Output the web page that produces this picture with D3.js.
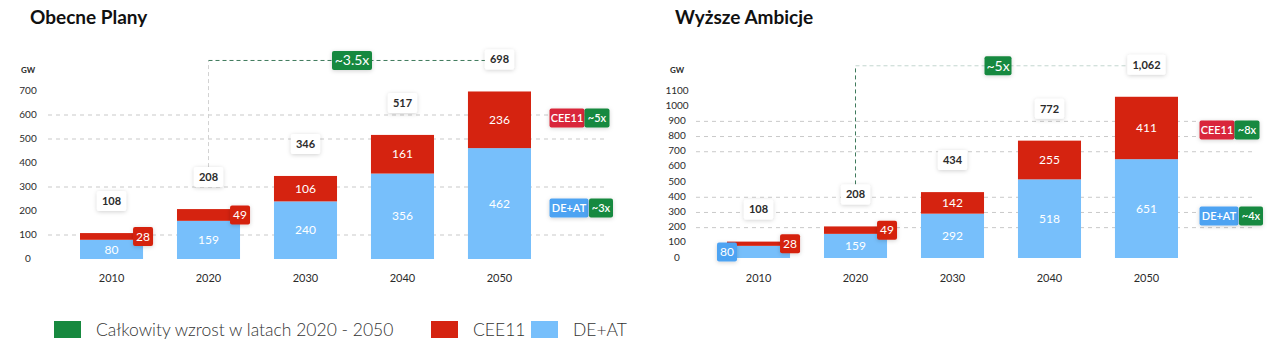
<!DOCTYPE html>
<html>
<head>
<meta charset="utf-8">
<script src="https://cdn.jsdelivr.net/npm/d3@7"></script>
<style>
  body { margin: 0; background: #fff; }
  svg { font-family: Lato, "Open Sans", sans-serif; display: block; }
</style>
</head>
<body>
<div id="main"></div>
<script>
// ---- data ----
const years = ["2010", "2020", "2030", "2040", "2050"];

const planyDeat  = [80, 159, 240, 356, 462];
const planyCee   = [28, 49, 106, 161, 236];
const planyTotal = [108, 208, 346, 517, 698];
const planyTicks = [0, 100, 200, 300, 400, 500, 600, 700];
const planyGrid  = [100, 300, 500, 600];
const planyGrowth = ["~3.5x", "~5x", "~3x"];   // total, CEE11, DE+AT

const ambDeat  = [80, 159, 292, 518, 651];
const ambCee   = [28, 49, 142, 255, 411];
const ambTotal = [108, 208, 434, 772, 1062];
const ambTicks = [0, 100, 200, 300, 400, 500, 600, 700, 800, 900, 1000, 1100];
const ambGrid  = [200, 300, 400, 700, 800, 900];
const ambGrowth = ["~5x", "~8x", "~4x"];

const legendLabels = ["Całkowity wzrost w latach 2020 - 2050", "CEE11", "DE+AT"];

const col = {
    red: "#d52310",
    blue: "#77bffb",
    green: "#17893f",
    tagRed: "#d9283a",
    tagBlue: "#4ea3f2",
    text: "#2b2b2b",
    grid: "#c9c9c9"
};

const svg = d3.select("#main").append("svg")
    .attr("width", 1280)
    .attr("height", 354);

// soft shadow used by the label boxes
const defs = svg.append("defs");
defs.append("filter").attr("id", "shadow")
    .attr("x", "-50%").attr("y", "-50%").attr("width", "200%").attr("height", "200%")
    .append("feDropShadow")
    .attr("dx", 0).attr("dy", 1).attr("stdDeviation", 2)
    .attr("flood-color", "#000").attr("flood-opacity", 0.18);

// white box with bold number, sized to the text
function valueBox(g, cx, cy, txt) {
    let bg = g.append("rect").attr("fill", "#fff").attr("rx", 2)
        .attr("filter", "url(#shadow)");
    let t = g.append("text")
        .attr("x", cx).attr("y", cy).attr("dy", "0.35em")
        .attr("text-anchor", "middle")
        .attr("font-size", 11).attr("font-weight", 700)
        .attr("fill", col.text)
        .text(txt);
    let w = t.node().getComputedTextLength() + 10;
    bg.attr("x", cx - w / 2).attr("y", cy - 10).attr("width", w).attr("height", 20);
}

// coloured tag with white text
function tag(g, cx, cy, w, fill, txt, size, weight) {
    g.append("rect")
        .attr("x", cx - w / 2).attr("y", cy - 9.5)
        .attr("width", w).attr("height", 19).attr("rx", 2)
        .attr("fill", fill).attr("filter", "url(#shadow)");
    g.append("text")
        .attr("x", cx).attr("y", cy).attr("dy", "0.35em")
        .attr("text-anchor", "middle")
        .attr("font-size", size || 12).attr("font-weight", weight || 700)
        .attr("fill", "#fff")
        .text(txt);
}

function drawPanel(p) {
    let g = svg.append("g");

    g.append("text")
        .attr("x", p.titleX).attr("y", 24)
        .attr("font-size", 19).attr("font-weight", 700)
        .attr("fill", "#111")
        .text(p.title);

    let x = d3.scaleBand().domain(years)
        .range(p.xRange).paddingInner(0.35).paddingOuter(0);
    let y = d3.scaleLinear().domain([0, p.max]).range([p.y0, 91]);

    // dashed grid
    g.append("g").selectAll("line")
        .data(p.grid).enter().append("line")
        .attr("x1", p.gridX[0]).attr("x2", p.gridX[1])
        .attr("y1", (d) => y(d)).attr("y2", (d) => y(d))
        .attr("stroke", col.grid).attr("stroke-width", 1)
        .attr("stroke-dasharray", "4,4");

    // y axis labels
    g.append("text")
        .attr("x", p.axisX).attr("y", 73)
        .attr("text-anchor", "middle")
        .attr("font-size", 8).attr("font-weight", 700)
        .attr("fill", col.text).text("GW");
    g.append("g").selectAll("text")
        .data(p.ticks).enter().append("text")
        .attr("x", p.axisX).attr("y", (d) => y(d) - 1).attr("dy", "0.35em")
        .attr("text-anchor", "middle")
        .attr("font-size", 10).attr("fill", col.text)
        .text((d) => d);

    // year labels
    g.append("g").selectAll("text")
        .data(years).enter().append("text")
        .attr("x", (d) => x(d) + x.bandwidth() / 2).attr("y", 278).attr("dy", "0.35em")
        .attr("text-anchor", "middle")
        .attr("font-size", 11).attr("fill", col.text)
        .text((d) => d);

    // growth connector from 2020 total to 2050 total
    let x20 = x("2020") + x.bandwidth() / 2;
    let x50 = x("2050") + x.bandwidth() / 2;
    let lineY = y(p.total[4]) - 31;
    g.append("line")
        .attr("x1", x20).attr("x2", x20)
        .attr("y1", y(p.total[1]) - 42).attr("y2", lineY)
        .attr("stroke", p.vColor).attr("stroke-dasharray", "4,3");
    g.append("line")
        .attr("x1", x20).attr("x2", x50 - 12)
        .attr("y1", lineY).attr("y2", lineY)
        .attr("stroke", p.hColor).attr("stroke-dasharray", "4,3");

    // stacked bars
    let bars = g.append("g");
    years.forEach((yr, i) => {
        let bx = x(yr), bw = x.bandwidth();
        let d = p.deat[i], c = p.cee[i];
        bars.append("rect")
            .attr("x", bx).attr("y", y(d))
            .attr("width", bw).attr("height", y(0) - y(d))
            .attr("fill", col.blue);
        bars.append("rect")
            .attr("x", bx).attr("y", y(d + c))
            .attr("width", bw).attr("height", y(d) - y(d + c))
            .attr("fill", col.red);
    });

    // segment labels (tags when the segment is too thin)
    years.forEach((yr, i) => {
        let bx = x(yr), bw = x.bandwidth(), cx = bx + bw / 2;
        let d = p.deat[i], c = p.cee[i];
        let dMid = (y(0) + y(d)) / 2, cMid = (y(d) + y(d + c)) / 2;
        if (y(0) - y(d) < 15) {
            tag(g, bx, dMid, 20, col.tagBlue, d, 12, 400);
        } else {
            g.append("text").attr("x", cx).attr("y", dMid).attr("dy", "0.35em")
                .attr("text-anchor", "middle").attr("font-size", 12)
                .attr("fill", "#fff").text(d);
        }
        if (y(d) - y(d + c) < 15) {
            tag(g, bx + bw, cMid, 20, col.red, c, 12, 400);
        } else {
            g.append("text").attr("x", cx).attr("y", cMid).attr("dy", "0.35em")
                .attr("text-anchor", "middle").attr("font-size", 12)
                .attr("fill", "#fff").text(c);
        }
        valueBox(g, cx, y(p.total[i]) - 32, d3.format(",")(p.total[i]));
    });

    // total growth box on the connector
    tag(g, p.growthX, lineY, p.growthW, col.green, p.growth[0], 14, 400);

    // growth by region
    let rx = p.sideX;
    tag(g, rx + 17, p.ceeY, 35, col.tagRed, "CEE11", 11, 600);
    tag(g, rx + 47, p.ceeY, 25, col.green, p.growth[1], 11, 600);
    tag(g, rx + 19, p.deatY, 39, col.tagBlue, "DE+AT", 11, 600);
    tag(g, rx + 51, p.deatY, 24, col.green, p.growth[2], 11, 600);
}

drawPanel({
    title: "Obecne Plany", titleX: 30,
    deat: planyDeat, cee: planyCee, total: planyTotal,
    ticks: planyTicks, grid: planyGrid, growth: planyGrowth,
    max: 700, y0: 259, xRange: [80, 531], gridX: [48, 606], axisX: 28,
    vColor: "#d2d2d2", hColor: "#3f7a5c",
    growthX: 352, growthW: 40,
    sideX: 550, ceeY: 118, deatY: 208
});

drawPanel({
    title: "Wyższe Ambicje", titleX: 675,
    deat: ambDeat, cee: ambCee, total: ambTotal,
    ticks: ambTicks, grid: ambGrid, growth: ambGrowth,
    max: 1100, y0: 258, xRange: [727, 1178], gridX: [696, 1254], axisX: 677,
    vColor: "#3f7a5c", hColor: "#c4d6cf",
    growthX: 998, growthW: 27,
    sideX: 1200, ceeY: 130, deatY: 216
});

// legend
const legendColors = [col.green, col.red, col.blue];
const legendX = [54, 431, 531];
const lg = svg.append("g");
legendLabels.forEach((lab, i) => {
    lg.append("rect")
        .attr("x", legendX[i]).attr("y", 321)
        .attr("width", 27).attr("height", 17)
        .attr("fill", legendColors[i]);
    lg.append("text")
        .attr("x", legendX[i] + 42).attr("y", 330).attr("dy", "0.35em")
        .attr("font-size", 17.5).attr("font-weight", 300)
        .attr("fill", "#333")
        .text(lab);
});
</script>
</body>
</html>
